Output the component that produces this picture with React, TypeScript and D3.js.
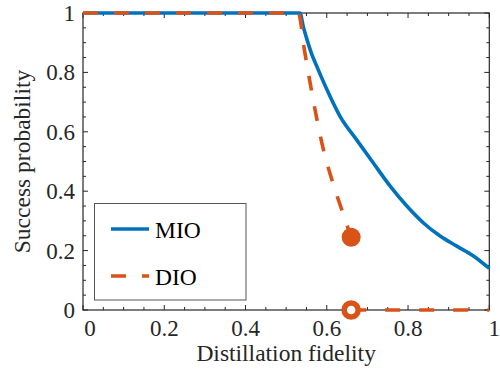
import React from "react";
import * as d3 from "d3";

// MIO curve (solid)
const mioFidelity = [0, 0.2, 0.4, 0.534, 0.542, 0.551, 0.562, 0.575, 0.6, 0.633, 0.674, 0.715, 0.756, 0.797, 0.838, 0.879, 0.92, 0.961, 1.0];
const mioProb = [1, 1, 1, 1, 0.955, 0.912, 0.865, 0.822, 0.743, 0.651, 0.572, 0.494, 0.417, 0.35, 0.293, 0.249, 0.215, 0.182, 0.14];

// DIO curve (dashed), upper branch and the zero branch
const dioFidelity = [0, 0.2, 0.4, 0.53, 0.545, 0.56, 0.575, 0.59, 0.61, 0.635, 0.66];
const dioProb = [1, 1, 1, 1, 0.875, 0.757, 0.647, 0.55, 0.45, 0.345, 0.245];
const dioZeroFidelity = [0.66, 1.0];
const dioZeroProb = [0, 0];

const seriesNames = ["MIO", "DIO"];
const xTicks = [0, 0.2, 0.4, 0.6, 0.8, 1];
const yTicks = [0, 0.2, 0.4, 0.6, 0.8, 1];

const BLUE = "#0072BD";
const ORANGE = "#D95319";
const AXIS = "#262626";
const FONT = "'Liberation Serif', 'Times New Roman', serif";

export default function App() {
    const ref = React.useRef(null);

    React.useEffect(() => {
        d3.select(ref.current).selectAll("*").remove();
        drawChart();
    }, []);

    function drawChart() {
        const width = 500;
        const height = 371;
        const left = 83, right = 489.3, top = 13, bottom = 310;

        const x = d3.scaleLinear().domain([0, 1]).range([left, right]);
        const y = d3.scaleLinear().domain([0, 1]).range([bottom, top]);

        const svg = d3
            .select(ref.current)
            .append("svg")
            .attr("width", width)
            .attr("height", height)
            .style("position", "absolute")
            .style("left", 0)
            .style("top", 0)
            .style("background", "white");

        // minor + major ticks, pointing inward, on all four sides
        const minor = d3.range(0, 1.0001, 0.05);
        const g = svg.append("g").attr("stroke", AXIS).attr("stroke-width", 1);
        minor.forEach((v) => {
            const isMajor = Math.abs(v * 5 - Math.round(v * 5)) < 1e-6;
            const len = isMajor ? 5 : 3;
            g.append("line").attr("x1", x(v)).attr("x2", x(v)).attr("y1", bottom).attr("y2", bottom - len);
            g.append("line").attr("x1", x(v)).attr("x2", x(v)).attr("y1", top).attr("y2", top + len);
            g.append("line").attr("y1", y(v)).attr("y2", y(v)).attr("x1", left).attr("x2", left + len);
            g.append("line").attr("y1", y(v)).attr("y2", y(v)).attr("x1", right).attr("x2", right - len);
        });
        svg.append("rect")
            .attr("x", left)
            .attr("y", top)
            .attr("width", right - left)
            .attr("height", bottom - top)
            .attr("fill", "none")
            .attr("stroke", AXIS)
            .attr("stroke-width", 1.2);

        // tick labels (end labels sit a bit to the right, as in the original)
        svg.selectAll("text.xt")
            .data(xTicks)
            .enter()
            .append("text")
            .attr("x", (d, i) => x(d) + (i === 0 ? 7 : i === xTicks.length - 1 ? 5 : 0))
            .attr("y", 336)
            .attr("text-anchor", "middle")
            .attr("font-family", FONT)
            .attr("font-size", 23)
            .attr("fill", AXIS)
            .text((d) => String(d));
        svg.selectAll("text.yt")
            .data(yTicks)
            .enter()
            .append("text")
            .attr("x", 75)
            .attr("y", (d) => y(d) + 8)
            .attr("text-anchor", "end")
            .attr("font-family", FONT)
            .attr("font-size", 23)
            .attr("fill", AXIS)
            .text((d) => String(d));

        svg.append("text")
            .attr("x", (left + right) / 2)
            .attr("y", 361)
            .attr("text-anchor", "middle")
            .attr("font-family", FONT)
            .attr("font-size", 23.5)
            .attr("fill", AXIS)
            .text("Distillation fidelity");
        svg.append("text")
            .attr("transform", `translate(30,${(top + bottom) / 2}) rotate(-90)`)
            .attr("text-anchor", "middle")
            .attr("font-family", FONT)
            .attr("font-size", 23.5)
            .attr("fill", AXIS)
            .text("Success probability");

        const line = d3
            .line()
            .x((d) => x(d[0]))
            .y((d) => y(d[1]))
            .curve(d3.curveMonotoneX);

        const mio = mioFidelity.map((f, i) => [f, mioProb[i]]);
        const dio = dioFidelity.map((f, i) => [f, dioProb[i]]);
        const dioZero = dioZeroFidelity.map((f, i) => [f, dioZeroProb[i]]);

        svg.append("path")
            .attr("d", line(mio))
            .attr("fill", "none")
            .attr("stroke", BLUE)
            .attr("stroke-width", 3.6);
        svg.append("path")
            .attr("d", line(dio))
            .attr("fill", "none")
            .attr("stroke", ORANGE)
            .attr("stroke-width", 3.6)
            .attr("stroke-dasharray", "15,16");
        svg.append("path")
            .attr("d", line(dioZero))
            .attr("fill", "none")
            .attr("stroke", ORANGE)
            .attr("stroke-width", 3.6)
            .attr("stroke-dasharray", "15,19");

        // endpoint markers
        const last = dio[dio.length - 1];
        svg.append("circle")
            .attr("cx", x(last[0]))
            .attr("cy", y(last[1]))
            .attr("r", 9.5)
            .attr("fill", ORANGE);
        svg.append("circle")
            .attr("cx", x(dioZero[0][0]))
            .attr("cy", y(dioZero[0][1]))
            .attr("r", 7)
            .attr("fill", "white")
            .attr("stroke", ORANGE)
            .attr("stroke-width", 5.5);

        // legend
        const lg = svg.append("g");
        lg.append("rect")
            .attr("x", 94.5)
            .attr("y", 203.5)
            .attr("width", 151.5)
            .attr("height", 96.5)
            .attr("fill", "white")
            .attr("stroke", "#555")
            .attr("stroke-width", 1);
        const colors = [BLUE, ORANGE];
        const dashes = [null, "15,16"];
        const rowY = [229, 276];
        seriesNames.forEach((name, i) => {
            lg.append("line")
                .attr("x1", 111)
                .attr("x2", 149)
                .attr("y1", rowY[i])
                .attr("y2", rowY[i])
                .attr("stroke", colors[i])
                .attr("stroke-width", 3.6)
                .attr("stroke-dasharray", dashes[i]);
            lg.append("text")
                .attr("x", 155)
                .attr("y", rowY[i] + 8.5)
                .attr("font-family", FONT)
                .attr("font-size", 23.5)
                .attr("fill", "#000")
                .text(name);
        });
    }

    return <div className="ChartContainer" ref={ref} />;
}
